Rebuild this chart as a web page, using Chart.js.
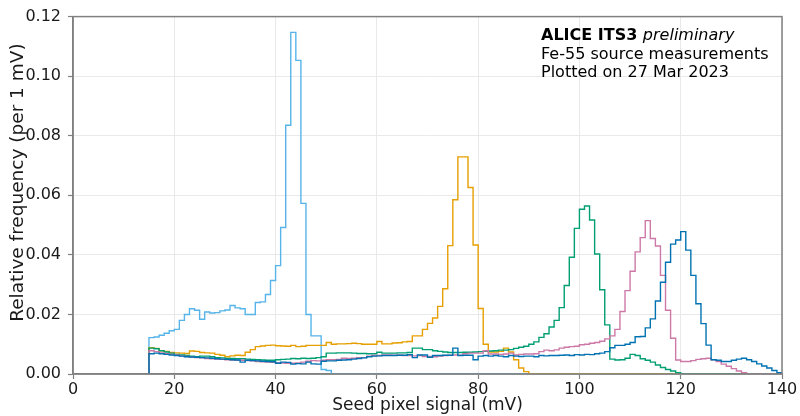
<!DOCTYPE html>
<html>
<head>
<meta charset="utf-8">
<script src="https://cdn.jsdelivr.net/npm/chart.js@4/dist/chart.umd.min.js"></script>
<style>
  html, body { margin: 0; padding: 0; background: #ffffff; }
  #wrap { width: 800px; height: 416px; }
</style>
</head>
<body>
<div id="wrap"><canvas id="c" width="800" height="416"></canvas></div>
<script>
// Histogram binning: 1 mV wide bins, first bin starts at 15 mV, last ends at 140 mV
const binStart = 15;
const binWidth = 1;

// Relative frequency per 1 mV bin (bins 15-16, 16-17, ... 139-140)
const histSkyBlue = [
  0.0122,0.0124,0.0130,0.0137,0.0145,0.0150,0.0180,0.0200,0.0219,0.0214,
  0.0184,0.0208,0.0205,0.0206,0.0212,0.0215,0.0230,0.0222,0.0219,0.0200,
  0.0200,0.0240,0.0242,0.0267,0.0314,0.0364,0.0492,0.0835,0.1147,0.1053,
  0.0573,0.0200,0.0128,0.0128,0.0015,0.0012,0,0,0,0,
  0,0,0,0,0,0,0,0,0,0,
  0,0,0,0,0,0,0,0,0,0,
  0,0,0,0,0,0,0,0,0,0,
  0,0,0,0,0,0,0,0,0,0,
  0,0,0,0,0,0,0,0,0,0,
  0,0,0,0,0,0,0,0,0,0,
  0,0,0,0,0,0,0,0,0,0,
  0,0,0,0,0,0,0,0,0,0,
  0,0,0,0,0
];
const histOrange = [
  0.0088,0.0086,0.0078,0.0076,0.0072,0.0071,0.0070,0.0069,0.0077,0.0076,
  0.0072,0.0071,0.0070,0.0066,0.0063,0.0058,0.0061,0.0063,0.0062,0.0073,
  0.0082,0.0092,0.0094,0.0096,0.0097,0.0095,0.0094,0.0093,0.0096,0.0092,
  0.0093,0.0096,0.0096,0.0096,0.0096,0.0106,0.0100,0.0101,0.0101,0.0102,
  0.0103,0.0102,0.0100,0.0100,0.0100,0.0109,0.0101,0.0101,0.0104,0.0105,
  0.0108,0.0109,0.0128,0.0128,0.0150,0.0170,0.0188,0.0227,0.0286,0.0431,
  0.0585,0.0729,0.0729,0.0626,0.0433,0.0220,0.0100,0.0074,0.0074,0.0076,
  0.0087,0.0074,0.0048,0.0020,0.0008,0,0,0,0,0,
  0,0,0,0,0,0,0,0,0,0,
  0,0,0,0,0,0,0,0,0,0,
  0,0,0,0,0,0,0,0,0,0,
  0,0,0,0,0,0,0,0,0,0,
  0,0,0,0,0
];
const histGreen = [
  0.0087,0.0085,0.0078,0.0074,0.0070,0.0066,0.0064,0.0062,0.0060,0.0058,
  0.0060,0.0060,0.0058,0.0055,0.0054,0.0052,0.0052,0.0051,0.0051,0.0050,
  0.0049,0.0048,0.0047,0.0046,0.0046,0.0048,0.0049,0.0050,0.0052,0.0051,
  0.0053,0.0052,0.0053,0.0055,0.0058,0.0070,0.0070,0.0071,0.0071,0.0071,
  0.0070,0.0069,0.0069,0.0068,0.0068,0.0073,0.0070,0.0070,0.0070,0.0071,
  0.0071,0.0072,0.0087,0.0087,0.0082,0.0082,0.0078,0.0076,0.0074,0.0072,
  0.0072,0.0072,0.0073,0.0073,0.0074,0.0075,0.0076,0.0077,0.0078,0.0080,
  0.0080,0.0082,0.0086,0.0090,0.0093,0.0100,0.0108,0.0123,0.0135,0.0158,
  0.0180,0.0223,0.0297,0.0392,0.0489,0.0553,0.0564,0.0517,0.0403,0.0283,
  0.0165,0.0050,0.0047,0.0048,0.0053,0.0066,0.0062,0.0051,0.0046,0.0040,
  0.0030,0.0022,0.0015,0.0010,0.0004,0,0,0,0,0,
  0,0,0,0,0,0,0,0,0,0,
  0,0,0,0,0
];
const histPink = [
  0.0078,0.0075,0.0071,0.0068,0.0066,0.0064,0.0061,0.0059,0.0057,0.0055,
  0.0054,0.0052,0.0051,0.0050,0.0049,0.0048,0.0047,0.0046,0.0046,0.0045,
  0.0044,0.0042,0.0041,0.0040,0.0039,0.0038,0.0037,0.0036,0.0036,0.0037,
  0.0040,0.0043,0.0045,0.0044,0.0046,0.0048,0.0048,0.0049,0.0053,0.0052,
  0.0053,0.0055,0.0055,0.0060,0.0062,0.0062,0.0064,0.0064,0.0063,0.0064,
  0.0062,0.0062,0.0061,0.0062,0.0059,0.0059,0.0058,0.0060,0.0062,0.0063,
  0.0064,0.0063,0.0068,0.0070,0.0070,0.0070,0.0078,0.0067,0.0067,0.0066,
  0.0067,0.0070,0.0064,0.0066,0.0067,0.0067,0.0068,0.0075,0.0080,0.0078,
  0.0081,0.0087,0.0090,0.0092,0.0093,0.0098,0.0100,0.0103,0.0106,0.0110,
  0.0118,0.0128,0.0150,0.0210,0.0280,0.0345,0.0410,0.0458,0.0515,0.0455,
  0.0430,0.0331,0.0214,0.0120,0.0047,0.0042,0.0042,0.0045,0.0049,0.0051,
  0.0053,0.0048,0.0042,0.0033,0.0026,0.0018,0.0010,0.0004,0,0,
  0,0,0,0,0
];
const histBlue = [
  0.0068,0.0070,0.0068,0.0066,0.0064,0.0062,0.0060,0.0058,0.0057,0.0056,
  0.0055,0.0054,0.0053,0.0051,0.0050,0.0049,0.0048,0.0047,0.0040,0.0046,
  0.0045,0.0044,0.0043,0.0042,0.0041,0.0036,0.0040,0.0039,0.0033,0.0035,
  0.0034,0.0040,0.0034,0.0033,0.0043,0.0044,0.0044,0.0046,0.0047,0.0048,
  0.0050,0.0052,0.0054,0.0058,0.0060,0.0061,0.0062,0.0062,0.0062,0.0063,
  0.0063,0.0065,0.0055,0.0064,0.0064,0.0056,0.0062,0.0062,0.0063,0.0063,
  0.0087,0.0062,0.0063,0.0063,0.0048,0.0060,0.0062,0.0060,0.0062,0.0060,
  0.0058,0.0062,0.0060,0.0059,0.0060,0.0060,0.0058,0.0062,0.0061,0.0062,
  0.0062,0.0063,0.0064,0.0062,0.0065,0.0064,0.0066,0.0065,0.0068,0.0070,
  0.0075,0.0088,0.0096,0.0096,0.0100,0.0106,0.0125,0.0126,0.0155,0.0185,
  0.0245,0.0308,0.0375,0.0436,0.0450,0.0478,0.0416,0.0331,0.0236,0.0169,
  0.0097,0.0048,0.0046,0.0042,0.0042,0.0046,0.0050,0.0053,0.0048,0.0042,
  0.0034,0.0027,0.0020,0.0012,0.0004
];

// Axis ticks
const xTicks = [0, 20, 40, 60, 80, 100, 120, 140];
const yTicks = [0.00, 0.02, 0.04, 0.06, 0.08, 0.10, 0.12];

// Axis titles and the annotation block in the upper right of the axes
const xTitle = 'Seed pixel signal (mV)';
const yTitle = 'Relative frequency (per 1 mV)';
const noteBold = 'ALICE ITS3';
const noteItalic = 'preliminary';
const noteLines = ['Fe-55 source measurements', 'Plotted on 27 Mar 2023'];

const FONT = '"DejaVu Sans", "Liberation Sans", sans-serif';

// Turn bin contents into step outline vertices: each value holds from its bin's
// lower edge up to the next edge (drawn with 'before' stepping)
function stairs(values) {
  const pts = [{ x: binStart, y: 0 }];
  values.forEach((v, i) => pts.push({ x: binStart + i * binWidth, y: v }));
  const end = binStart + values.length * binWidth;
  pts.push({ x: end, y: values[values.length - 1] });
  pts.push({ x: end, y: 0 });
  return pts;
}

function stepSet(values, color, order) {
  return {
    data: stairs(values),
    stepped: 'before',
    borderColor: color,
    borderWidth: 1.4,
    pointRadius: 0,
    pointHoverRadius: 0,
    fill: false,
    order: order
  };
}

const frameAndText = {
  id: 'frameAndText',
  afterDatasetsDraw(chart) {
    const { ctx, chartArea: a } = chart;
    ctx.save();
    ctx.strokeStyle = '#808080';
    ctx.lineWidth = 1.5;
    ctx.strokeRect(a.left, a.top, a.right - a.left, a.bottom - a.top);
    ctx.restore();
  },
  afterDraw(chart) {
    const { ctx, chartArea: a } = chart;
    ctx.save();
    // y axis title, rotated
    ctx.fillStyle = '#1a1a1a';
    ctx.translate(18, a.top + 166);
    ctx.rotate(-Math.PI / 2);
    ctx.textAlign = 'center';
    ctx.textBaseline = 'middle';
    ctx.font = '18.5px ' + FONT;
    ctx.fillText(yTitle, 0, 0);
    ctx.restore();

    const x0 = a.left + 468;
    const y0 = a.top + 23.5;
    const lh = 18.5;
    ctx.save();
    ctx.fillStyle = '#000000';
    ctx.textBaseline = 'alphabetic';
    ctx.textAlign = 'left';
    ctx.font = 'bold 16px ' + FONT;
    ctx.fillText(noteBold, x0, y0);
    const wb = ctx.measureText(noteBold + ' ').width;
    ctx.font = 'italic 16px ' + FONT;
    ctx.fillText(noteItalic, x0 + wb, y0);
    ctx.font = '16px ' + FONT;
    noteLines.forEach((t, i) => ctx.fillText(t, x0, y0 + lh * (i + 1)));
    ctx.restore();
  }
};

new Chart(document.getElementById('c'), {
  type: 'line',
  data: {
    datasets: [
      stepSet(histSkyBlue, '#56B4E9', 5),
      stepSet(histOrange, '#E69F00', 4),
      stepSet(histGreen, '#009E73', 3),
      stepSet(histPink, '#CC79A7', 2),
      stepSet(histBlue, '#0072B2', 1)
    ]
  },
  options: {
    responsive: false,
    animation: false,
    events: [],
    layout: { padding: { left: 0, right: 18, top: 15, bottom: 0 } },
    plugins: { legend: { display: false }, tooltip: { enabled: false } },
    scales: {
      x: {
        type: 'linear',
        min: 0,
        max: 140,
        afterBuildTicks(s) { s.ticks = xTicks.map(v => ({ value: v })); },
        afterFit(s) { s.height = 42; },
        grid: { color: '#e9e9e9', lineWidth: 1, tickLength: 5, tickColor: '#808080', tickWidth: 1.2 },
        border: { display: true, color: '#808080', width: 1.5 },
        ticks: {
          color: '#1a1a1a',
          font: { family: FONT, size: 16 },
          padding: 1,
          maxRotation: 0,
          callback: v => String(v)
        },
        title: {
          display: true,
          text: xTitle,
          color: '#1a1a1a',
          font: { family: FONT, size: 17 },
          padding: { top: 0, bottom: 0 }
        }
      },
      y: {
        type: 'linear',
        min: 0,
        max: 0.12,
        afterBuildTicks(s) { s.ticks = yTicks.map(v => ({ value: v })); },
        afterFit(s) { s.width = 73; },
        grid: { color: '#e9e9e9', lineWidth: 1, tickLength: 5, tickColor: '#808080', tickWidth: 1.2 },
        border: { display: true, color: '#808080', width: 1.5 },
        ticks: {
          color: '#1a1a1a',
          font: { family: FONT, size: 16 },
          padding: 7,
          callback: v => Number(v).toFixed(2)
        },
        title: { display: false }
      }
    }
  },
  plugins: [frameAndText]
});
</script>
</body>
</html>
